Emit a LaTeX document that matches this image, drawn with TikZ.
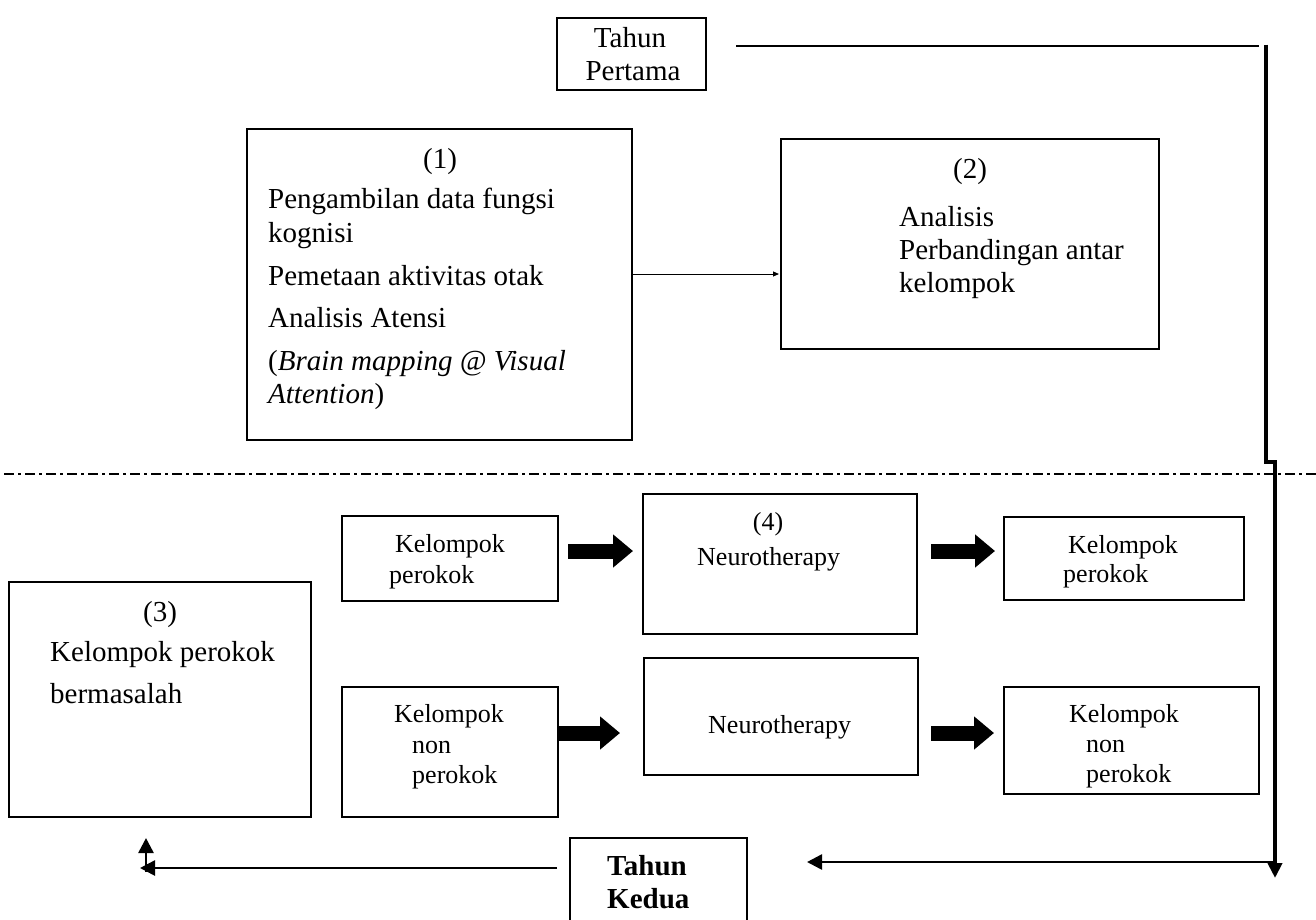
\documentclass[tikz,border=0pt]{standalone}
\usepackage{fontspec}
\setmainfont{Liberation Serif}
\usetikzlibrary{arrows.meta,calc}

% text sizes used in the flow chart
\newcommand\fbig{\fontsize{29}{34}\selectfont}
\newcommand\fsmall{\fontsize{26}{31}\selectfont}

% a box given by its corners (x1,y1) (x2,y2), y measured downwards
\newcommand\mkbox[5]{%
  \node[boxnode, minimum width={(#4-#2)*1pt}, minimum height={(#5-#3)*1pt}]
    (#1) at ({(#2+#4)/2},{(#3+#5)/2}) {};}

\tikzset{
  boxnode/.style={draw, line width=1.6pt, inner sep=0pt, outer sep=0pt, rectangle},
  tl/.style={anchor=base west, inner sep=0pt},
  tc/.style={anchor=base, inner sep=0pt},
  link/.style={line width=2.4pt},
  linktip/.style={line width=2.6pt, -{Triangle[length=15pt,width=15pt]}},
  thinlink/.style={line width=1pt, -{Triangle[length=6pt,width=5pt]}},
  spine/.style={line width=4pt},
  blockarrow/.style={line width=15pt, -{Triangle[length=20pt,width=32pt]}},
  separator/.style={line width=1.6pt, dash pattern=on 10pt off 4pt on 3pt off 4pt}
}

\begin{document}
\begin{tikzpicture}[x=1pt, y=-1pt]
\useasboundingbox (0,0) rectangle (1316,919);
\clip (0,0) rectangle (1316,919);

% boxes
\mkbox{tp}{557}{18}{706}{90}
\mkbox{b1}{247}{129}{632}{440}
\mkbox{b2}{781}{139}{1159}{349}
\mkbox{kp1}{342}{516}{558}{601}
\mkbox{nt1}{643}{494}{917}{634}
\mkbox{kp2}{1004}{517}{1244}{600}
\mkbox{b3}{9}{582}{311}{817}
\mkbox{knp1}{342}{687}{558}{817}
\mkbox{nt2}{644}{658}{918}{775}
\mkbox{knp2}{1004}{687}{1259}{794}
\mkbox{tk}{570}{838}{747}{934}

% texts
\begin{scope}[font=\fbig]
\node[tc] (tpa) at (630,47) {Tahun};
\node[tc] (tpb) at (633,80) {Pertama};

\node[tc] (b1a) at (440,168) {(1)};
\node[tl] (b1b) at (268,208) {Pengambilan data fungsi};
\node[tl] (b1c) at (268,242) {kognisi};
\node[tl] (b1d) at (268,285) {Pemetaan aktivitas otak};
\node[tl] (b1e) at (268,327) {Analisis Atensi};
\node[tl] (b1f) at (268,370) {(\textit{Brain mapping @ Visual}};
\node[tl] (b1g) at (268,403) {\textit{Attention})};

\node[tc] (b2a) at (970,178) {(2)};
\node[tl] (b2b) at (899,226) {Analisis};
\node[tl] (b2c) at (899,259) {Perbandingan antar};
\node[tl] (b2d) at (899,292) {kelompok};

\node[tc] (b3a) at (160,621) {(3)};
\node[tl] (b3b) at (50,661) {Kelompok perokok};
\node[tl] (b3c) at (50,703) {bermasalah};

\node[tl] (tka) at (607,875) {\bfseries Tahun};
\node[tl] (tkb) at (607,908) {\bfseries Kedua};
\end{scope}

\begin{scope}[font=\fsmall]
\node[tl] (kp1a) at (395,552) {Kelompok};
\node[tl] (kp1b) at (389,583) {perokok};

\node[tc] (nt1a) at (768,530) {(4)};
\node[tl] (nt1b) at (697,565) {Neurotherapy};

\node[tl] (kp2a) at (1068,553) {Kelompok};
\node[tl] (kp2b) at (1063,582) {perokok};

\node[tl] (knp1a) at (394,722) {Kelompok};
\node[tl] (knp1b) at (412,753) {non};
\node[tl] (knp1c) at (412,783) {perokok};

\node[tl] (nt2a) at (708,733) {Neurotherapy};

\node[tl] (knp2a) at (1069,722) {Kelompok};
\node[tl] (knp2b) at (1086,752) {non};
\node[tl] (knp2c) at (1086,782) {perokok};
\end{scope}

% separator between the two years
\coordinate (sepL) at (4,474);
\coordinate (sepR) at (1316,474);
\draw[separator] (sepL) -- (sepR);

% arrow from (1) to (2)
\draw[thinlink] ([shift={(0,-10.5)}]b1.east) -- ([shift={(-2,30)}]b2.west);

% block arrows in the second year
\draw[blockarrow] ([shift={(10,-7.5)}]kp1.east) -- ([shift={(-10,-13)}]nt1.west);
\draw[blockarrow] ([shift={(14,-13)}]nt1.east) -- ([shift={(-9,-7.5)}]kp2.west);
\draw[blockarrow] ([shift={(0,-19)}]knp1.east) -- ([shift={(-24,16.5)}]nt2.west);
\draw[blockarrow] ([shift={(13,16.5)}]nt2.east) -- ([shift={(-10,-7.5)}]knp2.west);

% time line from the first year down to the second year
\coordinate (c1) at (1259,46);
\coordinate (c2) at (1266,44.5);
\coordinate (c3) at (1266,462);
\coordinate (c4) at (1275,462);
\coordinate (c5) at (1275,878);
\coordinate (c6) at (1275,862);
\draw[link] ([shift={(30,-8)}]tp.east) -- (c1);
\draw[spine, -{Triangle[length=15pt,width=14pt]}] (c2) -- (c3) -- (c4) -- (c5);
\draw[linktip] (c6) -- ([shift={(60,-24)}]tk.east);
\draw[linktip] ([shift={(-13,-18)}]tk.west) -- ([shift={(-20,51)}]b3.south);
\draw[linktip] ([shift={(-14,55)}]b3.south) -- ([shift={(-14,21)}]b3.south);
\end{tikzpicture}
\end{document}
